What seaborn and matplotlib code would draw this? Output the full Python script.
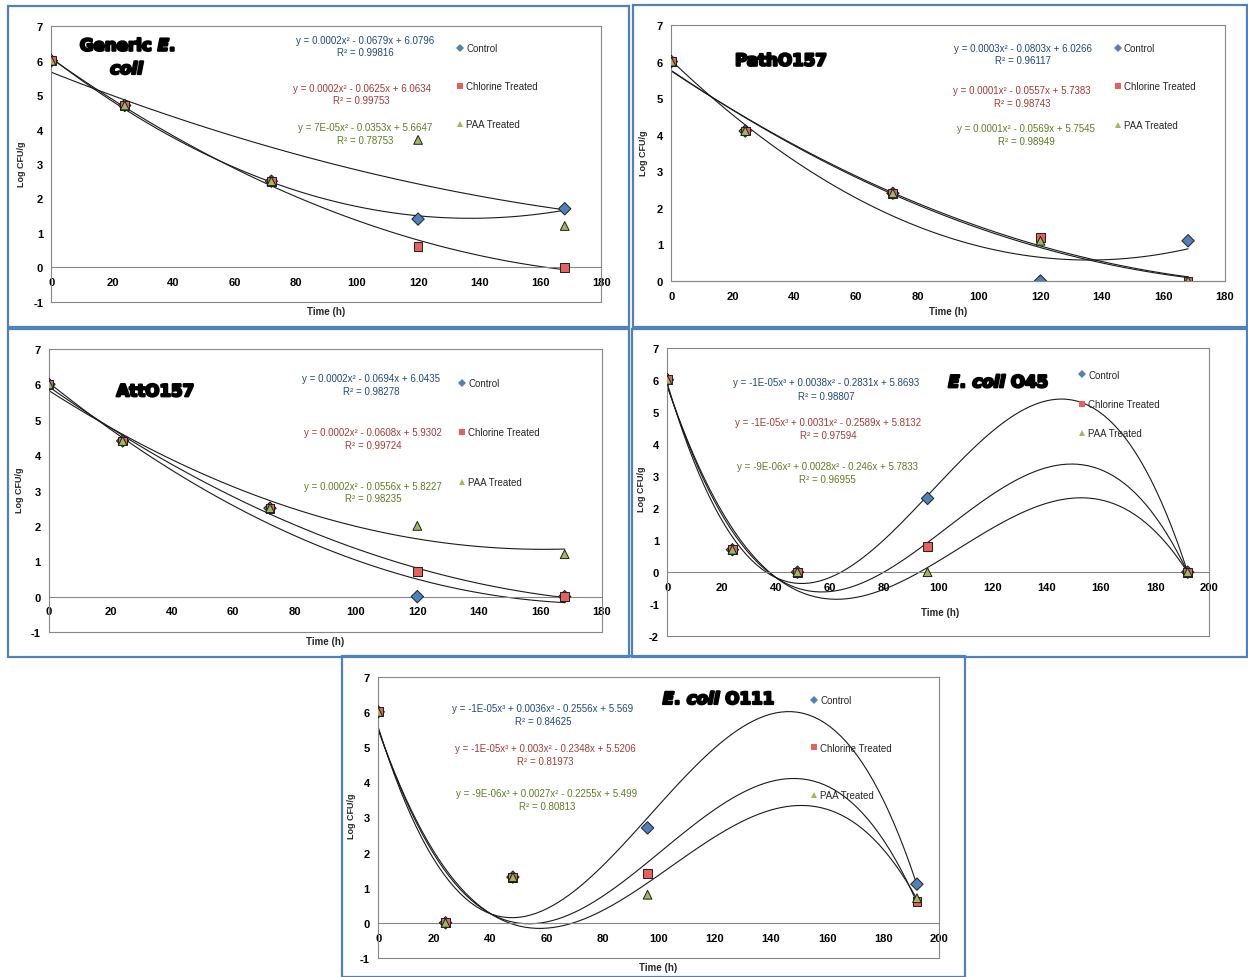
import matplotlib
matplotlib.use("Agg")
import matplotlib.pyplot as plt
import seaborn as sns
import numpy as np
import pandas as pd
from matplotlib.lines import Line2D
from matplotlib.patches import Rectangle
import matplotlib.patheffects as pe
import warnings
warnings.filterwarnings("ignore")

# ---------------- data ----------------
time_a = [0, 24, 72, 120, 168]
time_b = [0, 24, 48, 96, 192]
treatments = ["Control", "Chlorine Treated", "PAA Treated"]

generic_control = [6.0, 4.7, 2.5, 1.4, 1.7]
generic_chlorine = [6.0, 4.7, 2.5, 0.6, 0.0]
generic_paa = [6.0, 4.7, 2.5, 3.7, 1.2]

path_control = [6.0, 4.1, 2.4, 0.0, 1.1]
path_chlorine = [6.0, 4.1, 2.4, 1.2, 0.0]
path_paa = [6.0, 4.1, 2.4, 1.1, 0.0]

att_control = [6.0, 4.4, 2.5, 0.0, 0.0]
att_chlorine = [6.0, 4.4, 2.5, 0.7, 0.0]
att_paa = [6.0, 4.4, 2.5, 2.0, 1.2]

o45_control = [6.0, 0.7, 0.0, 2.3, 0.0]
o45_chlorine = [6.0, 0.7, 0.0, 0.8, 0.0]
o45_paa = [6.0, 0.7, 0.0, 0.0, 0.0]

o111_control = [6.0, 0.0, 1.3, 2.7, 1.1]
o111_chlorine = [6.0, 0.0, 1.3, 1.4, 0.6]
o111_paa = [6.0, 0.0, 1.3, 0.8, 0.7]

generic_eqs = [("y = 0.0002x² - 0.0679x + 6.0796", "R² = 0.99816"),
               ("y = 0.0002x² - 0.0625x + 6.0634", "R² = 0.99753"),
               ("y = 7E-05x² - 0.0353x + 5.6647", "R² = 0.78753")]
path_eqs = [("y = 0.0003x² - 0.0803x + 6.0266", "R² = 0.96117"),
            ("y = 0.0001x² - 0.0557x + 5.7383", "R² = 0.98743"),
            ("y = 0.0001x² - 0.0569x + 5.7545", "R² = 0.98949")]
att_eqs = [("y = 0.0002x² - 0.0694x + 6.0435", "R² = 0.98278"),
           ("y = 0.0002x² - 0.0608x + 5.9302", "R² = 0.99724"),
           ("y = 0.0002x² - 0.0556x + 5.8227", "R² = 0.98235")]
o45_eqs = [("y = -1E-05x³ + 0.0038x² - 0.2831x + 5.8693", "R² = 0.98807"),
           ("y = -1E-05x³ + 0.0031x² - 0.2589x + 5.8132", "R² = 0.97594"),
           ("y = -9E-06x³ + 0.0028x² - 0.246x + 5.7833", "R² = 0.96955")]
o111_eqs = [("y = -1E-05x³ + 0.0036x² - 0.2556x + 5.569", "R² = 0.84625"),
            ("y = -1E-05x³ + 0.003x² - 0.2348x + 5.5206", "R² = 0.81973"),
            ("y = -9E-06x³ + 0.0027x² - 0.2255x + 5.499", "R² = 0.80813")]

# ---------------- style ----------------
sns.set_style("white")
plt.rcParams["font.family"] = ["Liberation Sans", "DejaVu Sans"]
plt.rcParams["mathtext.fontset"] = "custom"
plt.rcParams["mathtext.it"] = "DejaVu Sans:italic:bold"
plt.rcParams["mathtext.rm"] = "DejaVu Sans:bold"

palette = {"Control": "#4F81BD", "Chlorine Treated": "#E8605B", "PAA Treated": "#9BBB59"}
markers = {"Control": "D", "Chlorine Treated": "s", "PAA Treated": "^"}
eq_colors = ["#1F497D", "#A23A37", "#5E7D22"]
axis_gray = "#868686"

W, H = 1248, 978
fig = plt.figure(figsize=(W / 100, H / 100), dpi=100)


def fx(px):
    return px / W


def fy(py):
    return 1 - py / H


panels = [
    dict(series=[generic_control, generic_chlorine, generic_paa], time=time_a, order=2,
         box=(51.4, 27.3, 601.4, 302.7), xlim=(0, 180), ylim=(-1, 7), xstep=20,
         border=(8, 7, 629, 328),
         title=[("Generic $\\mathit{E.}$", 127.6, 46.7), ("$\\mathit{coli}$", 127.6, 70)],
         eqs=generic_eqs, eqpos=[(365.6, 40.7, 53.3), (361.6, 89, 101.3), (365.2, 127.7, 140.7)],
         leg=(460, 50, 2.9), ylab=(22, 164), xlab=(326, 311.7)),
    dict(series=[path_control, path_chlorine, path_paa], time=time_a, order=2,
         box=(671.4, 26, 1225, 282), xlim=(0, 180), ylim=(0, 7), xstep=20,
         border=(633, 6, 1247, 328),
         title=[("PathO157", 780.8, 61.7)],
         eqs=path_eqs, eqpos=[(1023.2, 49.3, 61), (1022.2, 90.7, 104), (1026, 129.3, 142.3)],
         leg=(1117.6, 50, 2.93), ylab=(643.8, 153), xlab=(948.5, 312.3)),
    dict(series=[att_control, att_chlorine, att_paa], time=time_a, order=2,
         box=(49, 350, 601.5, 633), xlim=(0, 180), ylim=(-1, 7), xstep=20,
         border=(8, 330, 629, 658),
         title=[("AttO157", 155.3, 392.3)],
         eqs=att_eqs, eqpos=[(370.8, 379, 392), (373.2, 433.3, 446), (373, 486.7, 499.3)],
         leg=(462, 385, 4.06), ylab=(19.3, 490), xlab=(325.4, 642.3)),
    dict(series=[o45_control, o45_chlorine, o45_paa], time=time_b, order=3,
         box=(667.4, 348.7, 1209.4, 637.3), xlim=(0, 200), ylim=(-2, 7), xstep=20,
         border=(632, 330, 1247, 658),
         title=[("$\\mathit{E.\\,coli}$ O45", 998.5, 383.3)],
         eqs=o45_eqs, eqpos=[(826, 383.3, 396.7), (828, 422.7, 435.7), (827.5, 466.7, 479.7)],
         leg=(1082, 376.7, 1.99), ylab=(641.8, 489), xlab=(940.6, 613.3)),
    dict(series=[o111_control, o111_chlorine, o111_paa], time=time_b, order=3,
         box=(378.2, 677.7, 939.4, 959), xlim=(0, 200), ylim=(-1, 7), xstep=20,
         border=(342, 657, 965, 978),
         title=[("$\\mathit{E.\\,coli}$ O111", 718.7, 700)],
         eqs=o111_eqs, eqpos=[(542.9, 709, 721.7), (545.7, 749.3, 761.7), (546.9, 794, 806.7)],
         leg=(814, 702, 3.86), ylab=(352, 815.8), xlab=(658.2, 968.3)),
]

for p in panels:
    l, t, r, b = p["box"]
    ax = fig.add_axes([fx(l), fy(b), (r - l) / W, (b - t) / H])
    ax.set_facecolor("white")

    rows = []
    for name, vals in zip(treatments, p["series"]):
        for tt, v in zip(p["time"], vals):
            rows.append((tt, v, name))
    df = pd.DataFrame(rows, columns=["time", "logcfu", "treatment"])

    for name, vals in zip(treatments, p["series"]):
        sns.regplot(x=np.array(p["time"], dtype=float), y=np.array(vals, dtype=float),
                    order=p["order"], ci=None, scatter=False, truncate=True, ax=ax,
                    line_kws=dict(color="#1a1a1a", lw=0.8, zorder=2))

    sns.scatterplot(data=df, x="time", y="logcfu", hue="treatment", style="treatment",
                    palette=palette, markers=markers, s=40, edgecolor="#1f1f1f",
                    linewidth=0.7, legend=False, ax=ax, zorder=3)

    x0, x1 = p["xlim"]
    y0, y1 = p["ylim"]
    # spines first (moving a spine resets the ticks)
    for s in ax.spines.values():
        s.set_color(axis_gray)
        s.set_linewidth(0.8)
        s.set_visible(True)
    ax.spines["bottom"].set_position(("data", 0))
    ax.axhline(y0, color=axis_gray, lw=0.8, clip_on=False, zorder=1)

    ax.set_xlim(x0, x1)
    ax.set_ylim(y0, y1)
    xt = list(range(x0, x1 + 1, p["xstep"]))
    yt = list(range(y0, y1 + 1))
    ax.set_xticks(xt, labels=[str(v) for v in xt], fontsize=8, fontweight="bold")
    ax.set_yticks(yt, labels=[str(v) for v in yt], fontsize=8, fontweight="bold")
    ax.tick_params(axis="both", direction="out", length=3.5, width=0.8, color=axis_gray,
                   labelcolor="black")
    ax.tick_params(axis="x", pad=3.5)
    ax.tick_params(axis="y", pad=2.5)
    ax.set_xlabel("")
    ax.set_ylabel("")

    # legend
    handles = [Line2D([], [], marker=markers[n], color=palette[n], ls="", markersize=4.2,
                      markeredgewidth=0) for n in treatments]
    lx, ly, ls = p["leg"]
    ax.legend(handles, treatments, loc="upper left",
              bbox_to_anchor=(fx(lx - 3), fy(ly - 6)), bbox_transform=fig.transFigure,
              frameon=False, fontsize=7, labelspacing=ls, handlelength=0.6,
              handletextpad=0.35, borderpad=0, borderaxespad=0)

    # equations
    for (eq, r2), (ex, ey1, ey2), c in zip(p["eqs"], p["eqpos"], eq_colors):
        fig.text(fx(ex), fy(ey1), eq, color=c, fontsize=7, ha="center", va="center")
        fig.text(fx(ex), fy(ey2), r2, color=c, fontsize=7, ha="center", va="center")

    # titles
    for txt, tx, ty in p["title"]:
        fig.text(fx(tx), fy(ty), txt, fontsize=12, fontweight="bold", family="DejaVu Sans",
                 ha="center", va="center", color="black",
                 path_effects=[pe.withStroke(linewidth=1.6, foreground="black")])

    # axis titles
    yx, yy = p["ylab"]
    fig.text(fx(yx), fy(yy), "Log CFU/g", rotation=90, fontsize=6.5, fontweight="bold",
             ha="center", va="center")
    xx, xy = p["xlab"]
    fig.text(fx(xx), fy(xy), "Time (h)", fontsize=7, fontweight="bold", ha="center", va="center")

    # chart border
    bx0, by0, bx1, by1 = p["border"]
    fig.add_artist(Rectangle((fx(bx0), fy(by1)), (bx1 - bx0) / W, (by1 - by0) / H,
                             transform=fig.transFigure, fill=False, ec="#4F81BD", lw=1.6,
                             zorder=10))

fig.savefig("out.png", dpi=100, facecolor="white")
